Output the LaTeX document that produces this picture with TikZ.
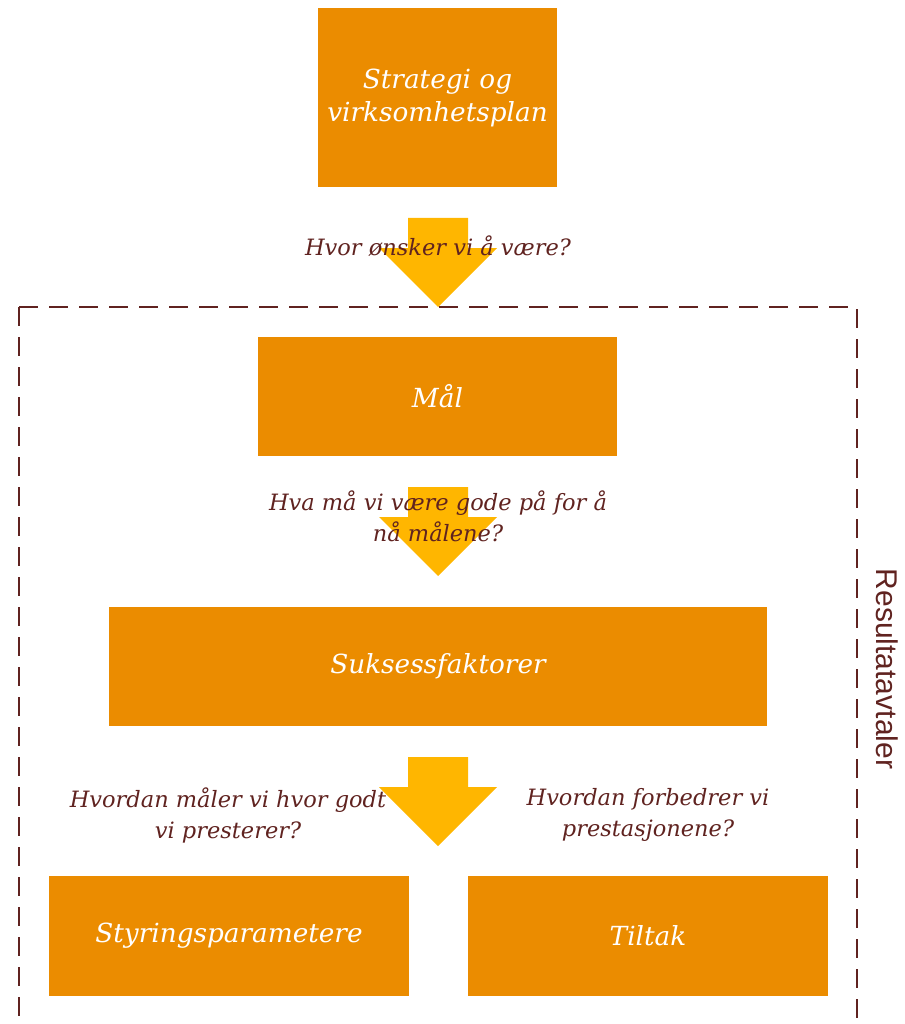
\documentclass[tikz,border=0pt]{standalone}
\usepackage{fontspec}
\setmainfont{DejaVu Serif}
\setsansfont{Liberation Sans}
\usetikzlibrary{positioning}
\definecolor{boxorange}{HTML}{EB8C00}
\definecolor{arrowyellow}{HTML}{FFB600}
\definecolor{darkbrown}{HTML}{602320}
\tikzset{
  stepbox/.style={fill=boxorange, text=white, align=center, inner sep=0pt,
    font=\itshape\fontsize{26.3}{33}\selectfont},
  question/.style={text=darkbrown, align=center, inner sep=0pt,
    font=\itshape\fontsize{22.5}{31}\selectfont},
}
\begin{document}
\begin{tikzpicture}[x=1pt, y=-1pt]
  \useasboundingbox (0,0) rectangle (904,1024);
  % block arrows
  \foreach \t in {218, 487, 757} {
    \fill[arrowyellow] (408,\t) -- (468,\t) -- (468,\t+30) -- (497,\t+30)
      -- (438,\t+89) -- (379,\t+30) -- (408,\t+30) -- cycle;
  }
  % boxes
  \node[stepbox, minimum width=239pt, minimum height=179pt] (strategi) at (437.5,97.5) {Strategi og\\virksomhetsplan};
  \node[stepbox, minimum width=359pt, minimum height=119pt] (maal) at (437.5,396.5) {Mål};
  \node[stepbox, minimum width=658pt, minimum height=119pt] (suksess) at (438,666.5) {Suksessfaktorer};
  \node[stepbox, minimum width=360pt, minimum height=120pt] (styring) at (229,936) {Styringsparametere};
  \node[stepbox, minimum width=360pt, minimum height=120pt] (tiltak) at (648,936) {Tiltak};
  % questions
  \node[question] (q1) at (438,246) {Hvor ønsker vi å være?};
  \node[question] (q2) at (438,516) {Hva må vi være gode på for å\\nå målene?};
  \node[question] (q3) at (228,815) {Hvordan måler vi hvor godt\\vi presterer?};
  \node[question] (q4) at (648,815) {Hvordan forbedrer vi\\prestasjonene?};
  % frame
  \coordinate (tl) at (19,307);
  \coordinate (tr) at (857,307);
  \draw[darkbrown, line width=2pt, dash pattern=on 19pt off 11pt] (tl) -- (19,1024);
  \draw[darkbrown, line width=2pt, dash pattern=on 19pt off 11pt] (tl) -- (tr) -- (857,1024);
  \node[text=darkbrown, rotate=-90, font=\sffamily\fontsize{30}{30}\selectfont, inner sep=0pt] (avtaler) at (887,669) {Resultatavtaler};
\end{tikzpicture}
\end{document}
